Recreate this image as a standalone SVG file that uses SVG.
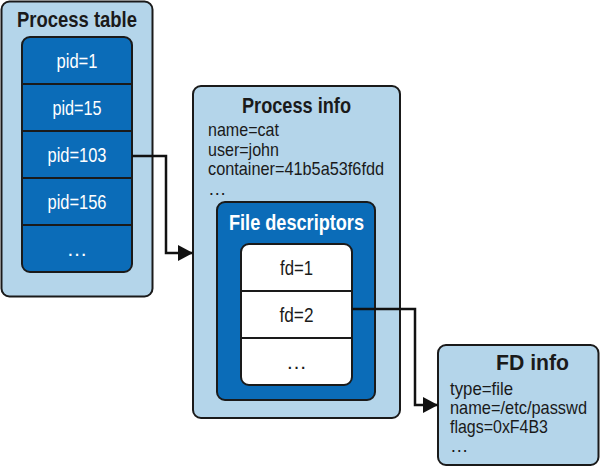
<svg xmlns="http://www.w3.org/2000/svg" width="600" height="467" viewBox="0 0 600 467">
  <defs>
    <style>
      .light { fill: #b4d5ea; stroke: #1a1a1a; stroke-width: 2; }
      .dark { fill: #0b6cb8; stroke: #1a1a1a; stroke-width: 2; }
      .white { fill: #ffffff; stroke: #1a1a1a; stroke-width: 2; }
      .div { stroke: #1a1a1a; stroke-width: 2; }
      .t { font-family: "Liberation Sans", Arial, sans-serif; }
      .title { font-size: 22px; font-weight: bold; fill: #1a1a1a; text-anchor: middle; }
      .wtitle { font-size: 22px; font-weight: bold; fill: #ffffff; text-anchor: middle; }
      .cell { font-size: 21px; fill: #ffffff; text-anchor: middle; }
      .bcell { font-size: 21px; fill: #1a1a1a; text-anchor: middle; }
      .body { font-size: 18.5px; fill: #1a1a1a; }
      .conn { fill: none; stroke: #111111; stroke-width: 2.5; }
    </style>
    <marker id="arrow" markerUnits="userSpaceOnUse" markerWidth="16" markerHeight="16" viewBox="0 0 16 16" refX="15" refY="8" orient="auto">
      <path d="M0,0 L15,8 L0,16 Z" fill="#111111"/>
    </marker>
  </defs>

  <g id="process-table">
    <rect class="light" x="1.5" y="1.5" width="151" height="295" rx="8"/>
    <text class="t title" x="77" y="27" textLength="120" lengthAdjust="spacingAndGlyphs">Process table</text>
    <rect class="dark" x="22" y="37" width="110" height="235" rx="8"/>
    <line class="div" x1="22" y1="84" x2="132" y2="84"/>
    <line class="div" x1="22" y1="131" x2="132" y2="131"/>
    <line class="div" x1="22" y1="178" x2="132" y2="178"/>
    <line class="div" x1="22" y1="225" x2="132" y2="225"/>
    <text class="t cell" x="77" y="68" textLength="41" lengthAdjust="spacingAndGlyphs">pid=1</text>
    <text class="t cell" x="77" y="115" textLength="49" lengthAdjust="spacingAndGlyphs">pid=15</text>
    <text class="t cell" x="77" y="162" textLength="59" lengthAdjust="spacingAndGlyphs">pid=103</text>
    <text class="t cell" x="77" y="209" textLength="59" lengthAdjust="spacingAndGlyphs">pid=156</text>
    <text class="t cell" x="77" y="256">…</text>
  </g>

  <g id="process-info">
    <rect class="light" x="193" y="86" width="207" height="332" rx="8"/>
    <text class="t title" x="296.5" y="113" textLength="109" lengthAdjust="spacingAndGlyphs">Process info</text>
    <text class="t body" x="208" y="136" textLength="71" lengthAdjust="spacingAndGlyphs">name=cat</text>
    <text class="t body" x="208" y="156" textLength="71" lengthAdjust="spacingAndGlyphs">user=john</text>
    <text class="t body" x="208" y="175" textLength="176" lengthAdjust="spacingAndGlyphs">container=41b5a53f6fdd</text>
    <text class="t body" x="208" y="195">…</text>
  </g>

  <g id="file-descriptors">
    <rect class="dark" x="217" y="202" width="158" height="198" rx="8"/>
    <text class="t wtitle" x="296.5" y="230" textLength="135" lengthAdjust="spacingAndGlyphs">File descriptors</text>
    <rect class="white" x="241" y="244" width="111" height="141" rx="8"/>
    <line class="div" x1="241" y1="291" x2="352" y2="291"/>
    <line class="div" x1="241" y1="338" x2="352" y2="338"/>
    <text class="t bcell" x="296.5" y="275" textLength="33" lengthAdjust="spacingAndGlyphs">fd=1</text>
    <text class="t bcell" x="296.5" y="322" textLength="34" lengthAdjust="spacingAndGlyphs">fd=2</text>
    <text class="t bcell" x="296.5" y="369">…</text>
  </g>

  <g id="fd-info">
    <rect class="light" x="438" y="345" width="160.5" height="120" rx="8"/>
    <text class="t title" x="532.5" y="370" textLength="73" lengthAdjust="spacingAndGlyphs">FD info</text>
    <text class="t body" x="450" y="395" textLength="63" lengthAdjust="spacingAndGlyphs">type=file</text>
    <text class="t body" x="450" y="414" font-size="17.5" textLength="137" lengthAdjust="spacingAndGlyphs">name=/etc/passwd</text>
    <text class="t body" x="450" y="433" textLength="98" lengthAdjust="spacingAndGlyphs">flags=0xF4B3</text>
    <text class="t body" x="450" y="452">…</text>
  </g>

  <g id="connectors">
    <path class="conn" d="M132,156 H166 V253 H193" marker-end="url(#arrow)"/>
    <path class="conn" d="M352,309 H415 V405 H438" marker-end="url(#arrow)"/>
  </g>
</svg>
